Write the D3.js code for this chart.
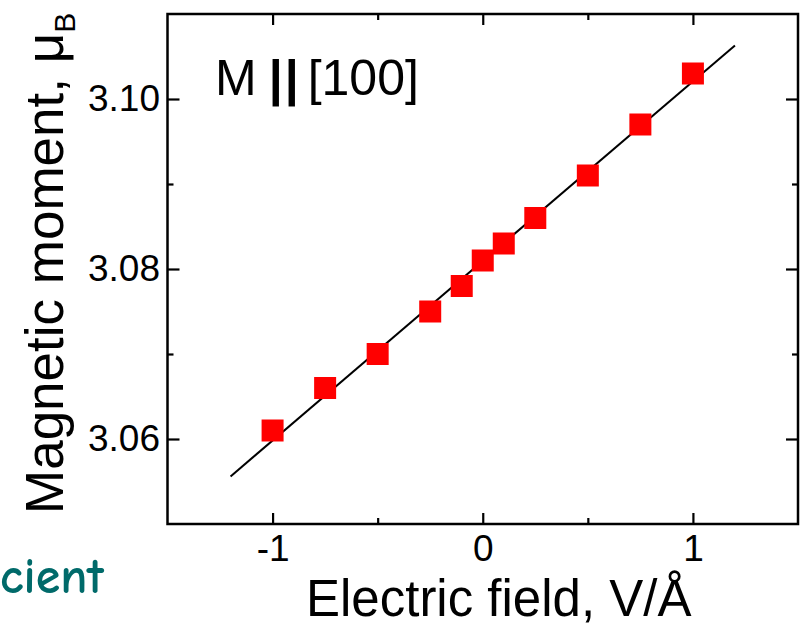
<!DOCTYPE html>
<html lang="en">
<head>
  <meta charset="UTF-8" />
  <title>Magnetic moment vs electric field</title>
  <script src="https://d3js.org/d3.v7.min.js"></script>
  <style>
    body { margin: 0; background: #fff; }
    svg { display: block; font-family: Arial, "Liberation Sans", sans-serif; }
    .tick text { font-size: 37px; fill: #000; }
    .tick line { stroke: #000; stroke-width: 2.2; }
  </style>
</head>
<body>
  <svg id="chart" width="800" height="626"></svg>

  <script>
    // Messpunkte
    const fieldValues = [-1, -0.75, -0.5, -0.25, -0.1, 0, 0.1, 0.25, 0.5, 0.75, 1];
    const momentValues = [3.061, 3.066, 3.070, 3.075, 3.078, 3.081, 3.083, 3.086, 3.091, 3.097, 3.103];

    // lineare Anpassung (Endpunkte)
    const fitField = [-1.2, 1.2];
    const fitMoment = [3.0556, 3.1063];

    const xMajor = [-1, 0, 1];
    const xMinor = [-0.5, 0.5];
    const yMajor = [3.06, 3.08, 3.10];
    const yMinor = [3.07, 3.09];

    const svg = d3.select("#chart");
    const mLeft = 167.5, mRight = 798, mTop = 14, mBottom = 524;

    const x = d3.scaleLinear().domain([-1.5, 1.5]).range([mLeft, mRight]);
    const y = d3.scaleLinear().domain([3.05, 3.11]).range([mBottom, mTop]);

    const noDomain = g => g.select(".domain").remove();
    const hyphen = d => String(d); // "-1" mit normalem Bindestrich

    // Achsen mit Ticks nach innen
    svg.append("g")
      .attr("transform", `translate(0,${mBottom})`)
      .call(d3.axisBottom(x).tickValues(xMajor).tickSize(-11).tickPadding(11).tickFormat(hyphen))
      .call(noDomain);
    svg.append("g")
      .attr("transform", `translate(0,${mBottom})`)
      .call(d3.axisBottom(x).tickValues(xMinor).tickSize(-6).tickFormat(""))
      .call(noDomain);
    svg.append("g")
      .attr("transform", `translate(0,${mTop})`)
      .call(d3.axisTop(x).tickValues(xMajor).tickSize(-11).tickFormat(""))
      .call(noDomain);
    svg.append("g")
      .attr("transform", `translate(0,${mTop})`)
      .call(d3.axisTop(x).tickValues(xMinor).tickSize(-6).tickFormat(""))
      .call(noDomain);

    svg.append("g")
      .attr("transform", `translate(${mLeft},0)`)
      .call(d3.axisLeft(y).tickValues(yMajor).tickSize(-12).tickPadding(7.5).tickFormat(d3.format(".2f")))
      .call(noDomain);
    svg.append("g")
      .attr("transform", `translate(${mLeft},0)`)
      .call(d3.axisLeft(y).tickValues(yMinor).tickSize(-6).tickFormat(""))
      .call(noDomain);
    svg.append("g")
      .attr("transform", `translate(${mRight},0)`)
      .call(d3.axisRight(y).tickValues(yMajor).tickSize(-12).tickFormat(""))
      .call(noDomain);
    svg.append("g")
      .attr("transform", `translate(${mRight},0)`)
      .call(d3.axisRight(y).tickValues(yMinor).tickSize(-6).tickFormat(""))
      .call(noDomain);

    svg.selectAll(".tick text").attr("fill", "#000").attr("font-size", null);

    // Rahmen
    svg.append("rect")
      .attr("x", mLeft).attr("y", mTop)
      .attr("width", mRight - mLeft).attr("height", mBottom - mTop)
      .attr("fill", "none").attr("stroke", "#000").attr("stroke-width", 2.5);

    // Fit-Linie
    const line = d3.line().x(d => x(d[0])).y(d => y(d[1]));
    svg.append("path")
      .datum(d3.zip(fitField, fitMoment))
      .attr("d", line)
      .attr("fill", "none")
      .attr("stroke", "#000")
      .attr("stroke-width", 2);

    // Quadrate
    const size = 22;
    svg.selectAll(".pt")
      .data(d3.zip(fieldValues, momentValues))
      .join("rect")
      .attr("class", "pt")
      .attr("x", d => x(d[0]) - size / 2)
      .attr("y", d => y(d[1]) - size / 2)
      .attr("width", size)
      .attr("height", size)
      .attr("fill", "#ff0000");

    // Beschriftung im Diagramm
    const label = svg.append("text")
      .attr("x", 215).attr("y", 95)
      .attr("font-size", 50);
    label.append("tspan").text("M");
    label.append("tspan").attr("dx", 12).attr("font-weight", "bold").text("|");
    label.append("tspan").attr("dx", 2).attr("font-weight", "bold").text("|");
    label.append("tspan").attr("dx", 9).text("[100]");

    // Achsentitel
    svg.append("text")
      .attr("x", 306).attr("y", 616)
      .attr("font-size", 51)
      .text("Electric field, V/Å");

    const yt = svg.append("text")
      .attr("transform", "translate(63,514) rotate(-90)")
      .attr("font-size", 53);
    yt.append("tspan").text("Magnetic moment, μ");
    yt.append("tspan").attr("font-size", 30).attr("dy", 12).text("B");

    // abgeschnittener Text unten links
    svg.append("text")
      .attr("x", 0).attr("y", 593)
      .attr("font-family", "'Comic Sans MS', 'Comic Neue', 'DejaVu Sans', sans-serif")
      .attr("font-size", 50)
      .attr("font-weight", 600)
      .attr("fill", "#006a6a")
      .text("cient");
  </script>
</body>
</html>
